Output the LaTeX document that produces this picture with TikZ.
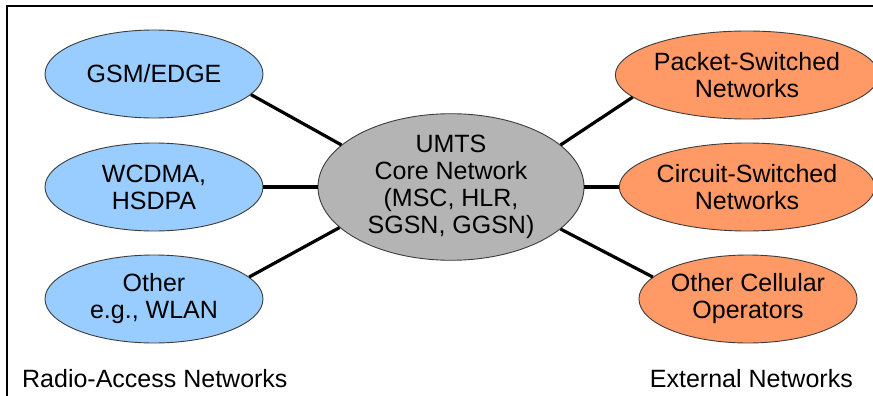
\documentclass[tikz,border=0pt]{standalone}
\usepackage{fontspec}
\setmainfont{Liberation Sans}
\usetikzlibrary{shapes.geometric}
\definecolor{accessblue}{RGB}{153,204,255}
\definecolor{extorange}{RGB}{255,153,102}
\definecolor{coregray}{RGB}{180,180,180}
\definecolor{rimgray}{RGB}{60,60,60}
\tikzset{
  net/.style={ellipse, draw=rimgray, line width=0.9pt, inner sep=0pt,
    minimum width=218pt, minimum height=88pt, align=center,
    font=\fontsize{25}{27}\selectfont},
  access/.style={net, fill=accessblue},
  external/.style={net, fill=extorange},
  core/.style={net, fill=coregray, minimum width=266pt, minimum height=120pt},
  link/.style={line width=3.2pt, black},
  caption/.style={inner sep=0pt, font=\fontsize{25}{27}\selectfont},
  frameline/.style={line width=1.4pt, black}
}
\begin{document}
\begin{tikzpicture}[x=1pt,y=-1pt]
\useasboundingbox (0,0) rectangle (873,396);
\fill[white] (0,0) rectangle (873,396);
% open frame: top and left edges only
\coordinate (fa) at (7,396);
\coordinate (fb) at (7,6);
\coordinate (fc) at (873,6);
\draw[frameline] (fa) -- (fb) -- (fc);

% nodes
\node[core] (core) at (451,187) {UMTS\\Core Network\\(MSC, HLR,\\SGSN, GGSN)};
\node[access] (gsm) at (154,74) {GSM/EDGE};
\node[access] (wcdma) at (154,187) {WCDMA,\\HSDPA};
\node[access] (other) at (154,299) {Other\\e.g., WLAN};
\node[external] (packet) at (747,75) {Packet-Switched\\Networks};
\node[external] (circuit) at (747,187) {Circuit-Switched\\Networks};
\node[external] (cellular) at (748,299) {Other Cellular\\Operators};

% connectors
\draw[link] (gsm.-12) -- (core.159);
\draw[link] (wcdma.east) -- (core.west);
\draw[link] (other.13) -- (core.200);
\draw[link] (core.21) -- (packet.191);
\draw[link] (core.east) -- (circuit.west);
\draw[link] (core.-21) -- (cellular.167);

% group captions
\node[caption, anchor=base west] (rancap) at (22,387) {Radio-Access Networks};
\node[caption, anchor=base east] (extcap) at (853,387) {External Networks};
\end{tikzpicture}
\end{document}
